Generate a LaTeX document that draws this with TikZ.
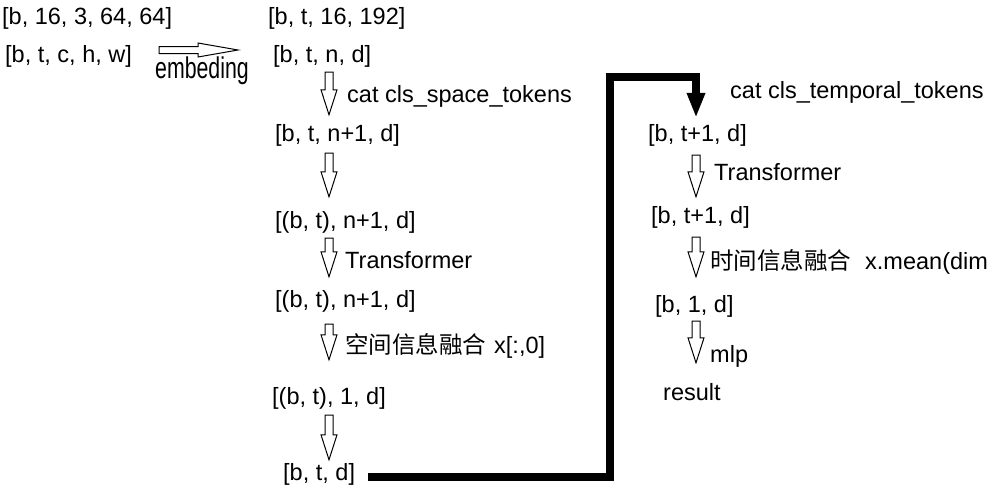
\documentclass[tikz,border=0pt]{standalone}
\usepackage{fontspec}
\setmainfont{Liberation Sans}
\newfontfamily\cjk{Noto Sans CJK SC}
\newfontfamily\narrowfont[FakeStretch=0.71]{Liberation Sans}
\usetikzlibrary{calc, arrows.meta}

\tikzset{
  shp/.style={anchor=base west, inner sep=0pt, text height=17pt, text depth=5pt,
              font=\fontsize{23.5pt}{27pt}\selectfont},
  vhollow/.style 2 args={draw=black, fill=white, line width=1pt, line join=miter,
    to path={let \p1=(\tikztostart), \p2=(\tikztotarget) in
      (\x1-4pt,\y1-#1) -- (\x1+4pt,\y1-#1) -- (\x1+4pt,\y2+#2+25pt)
      -- (\x1+8pt,\y2+#2+25pt) -- (\x1,\y2+#2) -- (\x1-8pt,\y2+#2+25pt)
      -- (\x1-4pt,\y2+#2+25pt) -- cycle}},
  hhollow/.style 2 args={draw=black, fill=white, line width=1pt, line join=miter,
    to path={let \p1=(\tikztostart), \p2=(\tikztotarget) in
      (\x1+#1,\y1+3.5pt) -- (\x2-#2-40pt,\y1+3.5pt) -- (\x2-#2-40pt,\y1+7pt)
      -- (\x2-#2,\y1) -- (\x2-#2-40pt,\y1-7pt) -- (\x2-#2-40pt,\y1-3.5pt)
      -- (\x1+#1,\y1-3.5pt) -- cycle}},
  bus/.style={line width=7.5pt, -{Triangle[length=25pt, width=17pt]}}
}

\begin{document}
\begin{tikzpicture}[x=1pt, y=-1pt]
  \useasboundingbox (0,0) rectangle (992,490);

  \coordinate (colL) at (329,0);
  \coordinate (colR) at (696,0);
  \coordinate (turn) at (610,77);

  % input
  \node[shp] (raw) at (2,24) {[b, 16, 3, 64, 64]};
  \node[shp] (inp) at (5,62) {[b, t, c, h, w]};
  \node[shp, font=\narrowfont\fontsize{30pt}{32pt}\selectfont] (emb) at (155,78) {embeding};

  % space part
  \node[shp] (patch) at (268,24) {[b, t, 16, 192]};
  \node[shp] (s0) at (273,62) {[b, t, n, d]};
  \node[shp] (s1) at (275,141) {[b, t, n+1, d]};
  \node[shp] (s2) at (275,228) {[(b, t), n+1, d]};
  \node[shp] (s3) at (275,307) {[(b, t), n+1, d]};
  \node[shp] (s4) at (272,404) {[(b, t), 1, d]};
  \node[shp] (s5) at (283,480) {[b, t, d]};

  \node[shp] (l0) at (347,102) {cat cls\_space\_tokens};
  \node[shp] (l1) at (345,268) {Transformer};
  \node[shp] (l2) at (345,353) {{\cjk 空间信息融合}\hspace{8pt}x[:,0]};

  % temporal part
  \node[shp] (l3) at (730,98) {cat cls\_temporal\_tokens};
  \node[shp] (r0) at (648,141) {[b, t+1, d]};
  \node[shp] (l4) at (714,180) {Transformer};
  \node[shp] (r1) at (651,223) {[b, t+1, d]};
  \node[shp] (l5) at (710,269) {{\cjk 时间信息融合}\hspace{14pt}x.mean(dim};
  \node[shp] (r2) at (655,312) {[b, 1, d]};
  \node[shp] (l6) at (710,362) {mlp};
  \node[shp] (res) at (663,400) {result};

  % arrows
  \draw[hhollow={27pt}{35pt}] ([yshift=6pt]inp.east) to ([yshift=6pt]s0.west);
  \draw[vhollow={5pt}{9pt}] (s0.south -| colL) to (s1.north -| colL);
  \draw[vhollow={7pt}{14pt}] (s1.south -| colL) to (s2.north -| colL);
  \draw[vhollow={5pt}{13pt}] (s2.south -| colL) to (s3.north -| colL);
  \draw[vhollow={12pt}{27pt}] (s3.south -| colL) to (s4.north -| colL);
  \draw[vhollow={6pt}{3pt}] (s4.south -| colL) to (s5.north -| colL);

  \draw[vhollow={9pt}{9pt}] (r0.south -| colR) to (r1.north -| colR);
  \draw[vhollow={9pt}{18pt}] (r1.south -| colR) to (r2.north -| colR);
  \draw[vhollow={4pt}{20pt}] (r2.south -| colR) to (res.north -| colR);

  \draw[bus] ([xshift=13pt,yshift=-3pt]s5.east) -| (turn) -| ($(r0.north -| colR)+(0,-6)$);
\end{tikzpicture}
\end{document}
